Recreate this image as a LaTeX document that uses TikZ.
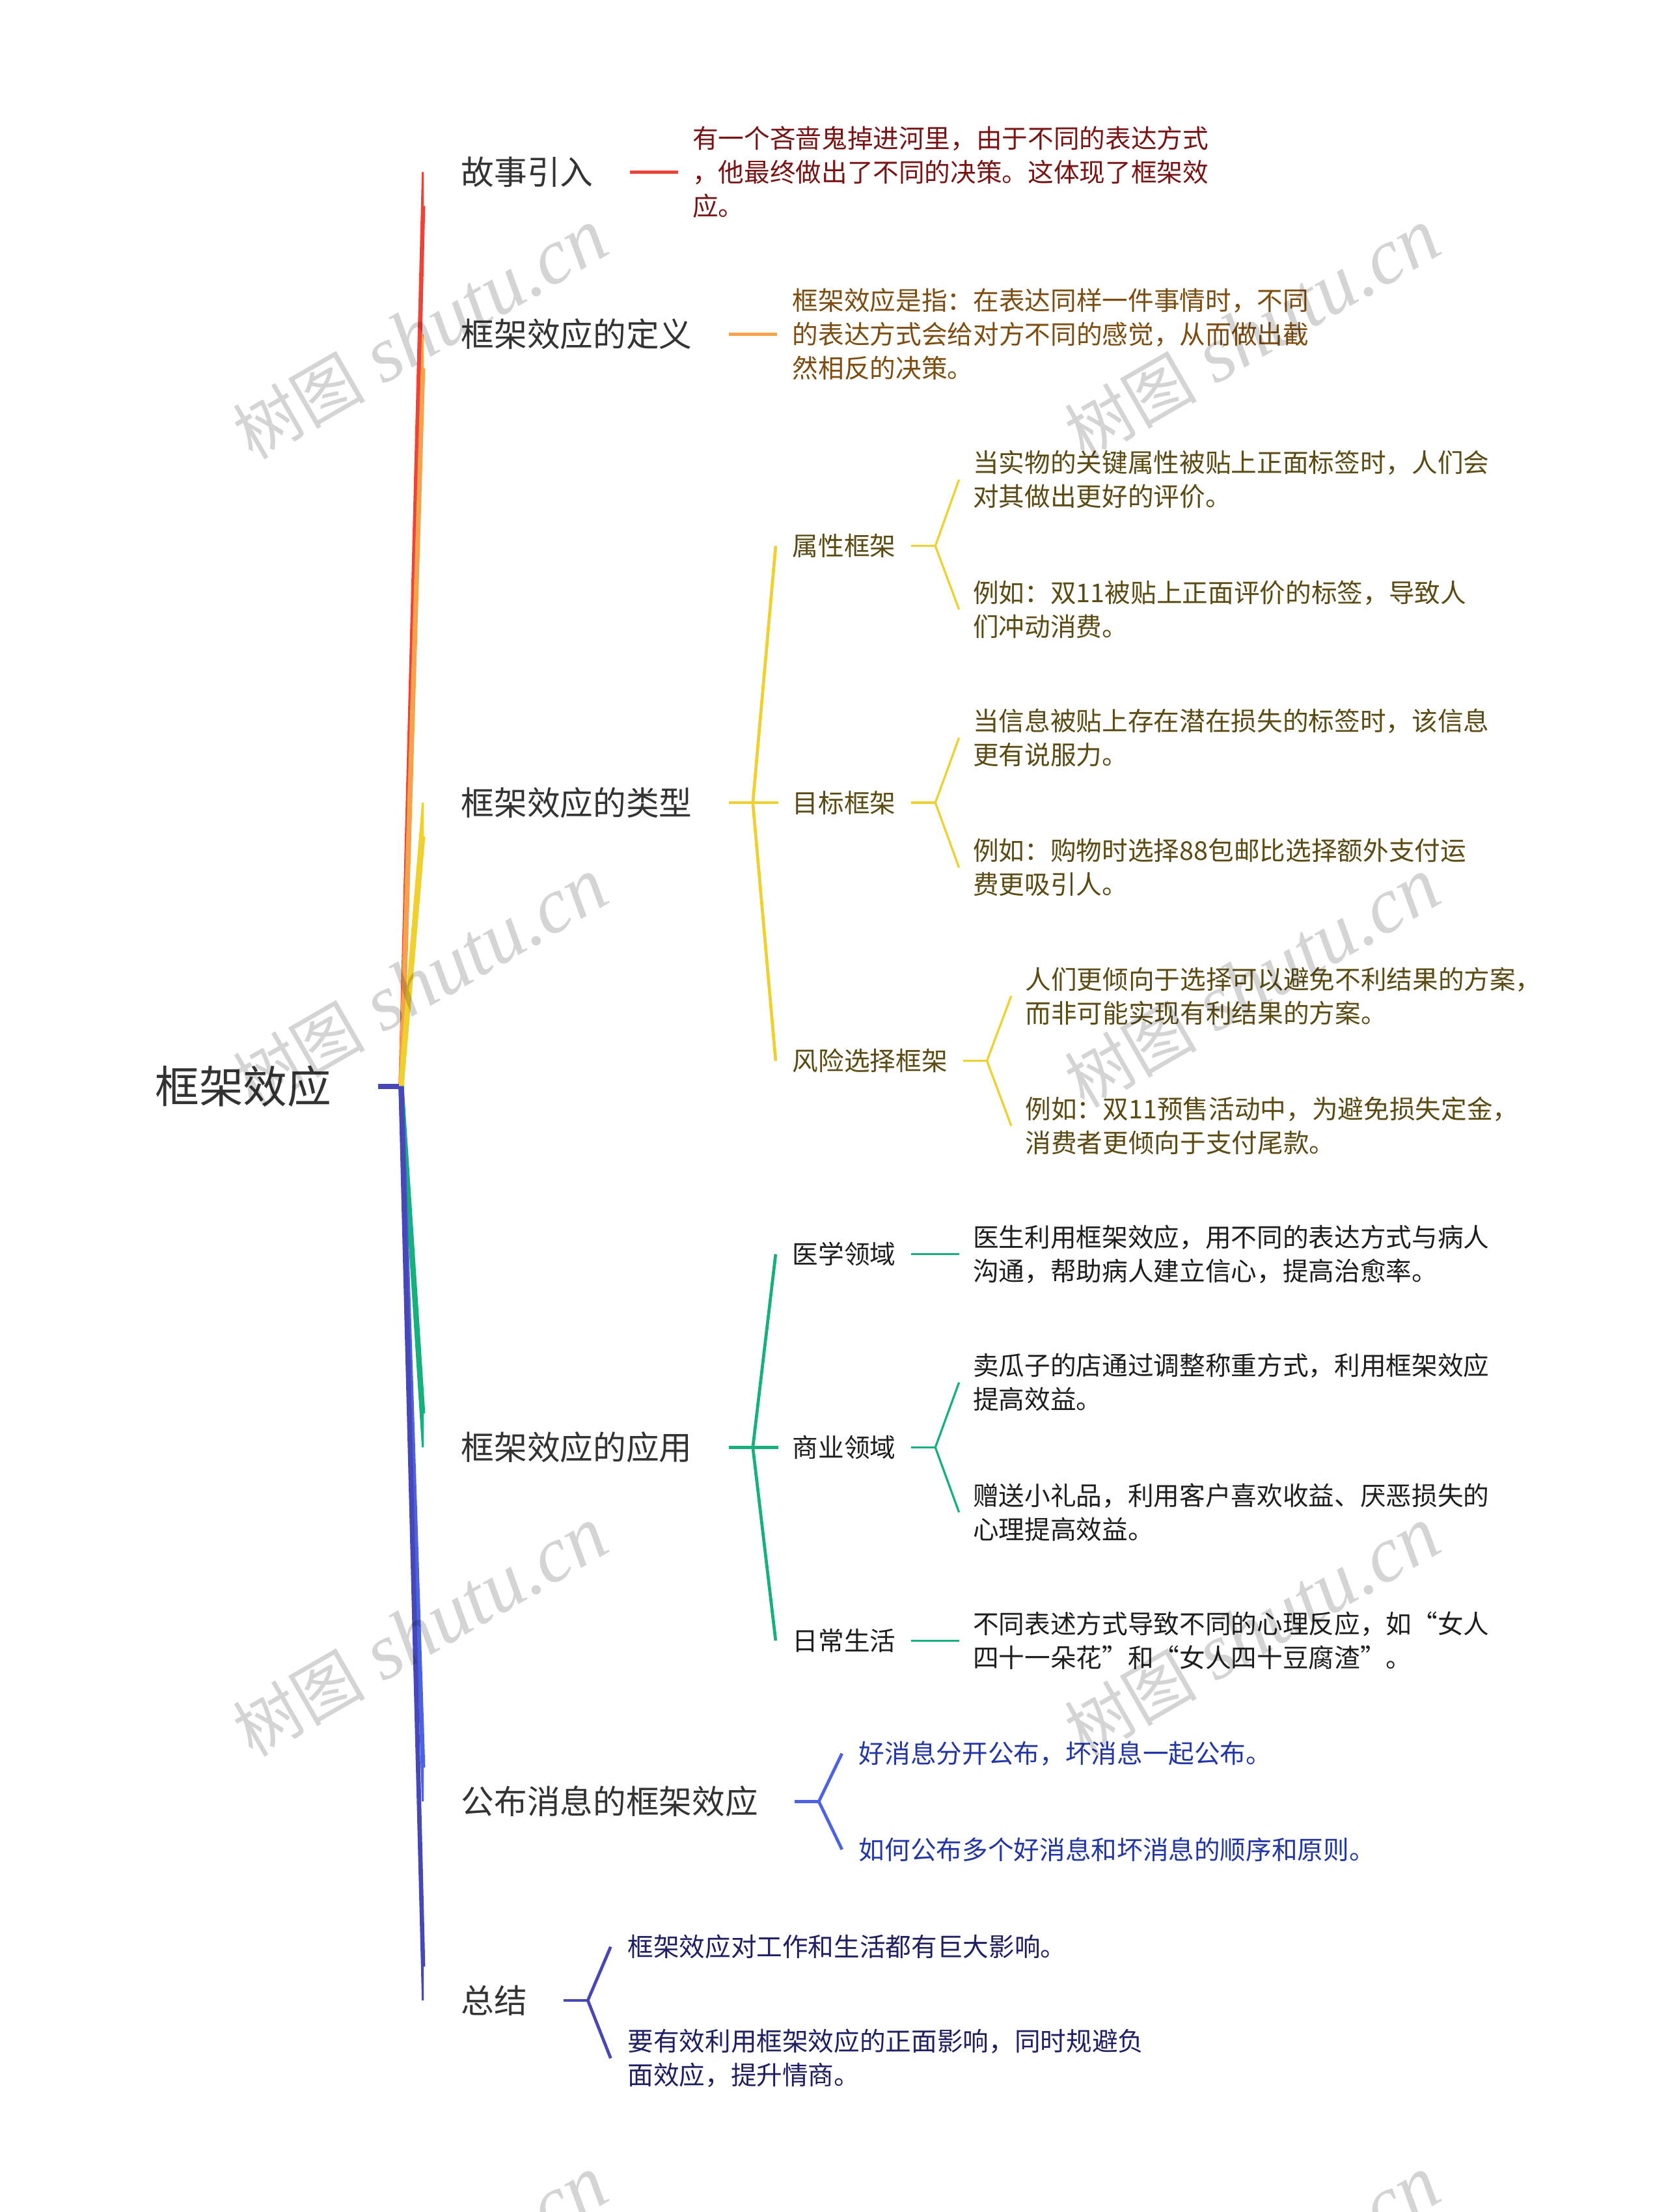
\documentclass[tikz,border=0pt]{standalone}
\usepackage{fontspec}
\newfontfamily\cjk{Noto Sans CJK SC}
\newfontfamily\wmfont{Liberation Serif}
\usetikzlibrary{calc}
\definecolor{cred}{HTML}{EE4339}
\definecolor{corange}{HTML}{F5A24B}
\definecolor{cyel}{HTML}{EFD02C}
\definecolor{cgreen}{HTML}{14B17C}
\definecolor{cblue}{HTML}{4C62E6}
\definecolor{cind}{HTML}{4747B8}
\definecolor{txone}{HTML}{333333}
\definecolor{txred}{HTML}{7A1414}
\definecolor{txbrown}{HTML}{7D4C0E}
\definecolor{txolive}{HTML}{5B4B12}
\definecolor{txgreen}{HTML}{1E1E1E}
\definecolor{txblue}{HTML}{2236A8}
\definecolor{txnavy}{HTML}{1F1F66}
\newcommand\mmtrunk[3]{%
  \fill[#1] ($(rb)+(-1.9,0)$) -- ($(#2.west)+(-27.9,0)$) -- ($(#2.west)+(-26.5,0)$)
    -- ($(#2.west)+(-26.5,#3*24)$) -- ($(#2.west)+(-25.5,#3*24)$) -- ($(rb)+(1.9,0)$) -- cycle;}
\begin{document}
\begin{tikzpicture}[x=1pt,y=-1pt,
  txt/.style={inner sep=0pt, outer sep=0pt, anchor=west, align=left},
  rootnode/.style={txt, font=\cjk\fontsize{31.25}{36}\selectfont, text=txone},
  lone/.style={txt, font=\cjk\fontsize{23.4}{28}\selectfont, text=txone},
  ltwo/.style={txt, font=\cjk\fontsize{18.3}{24}\selectfont},
  det/.style={txt, font=\cjk\fontsize{18.3}{24}\selectfont},
  cone/.style={line width=2.4pt},
  conm/.style={line width=2.2pt},
  ctwo/.style={line width=1.5pt},
  wm/.style={inner sep=0pt, rotate=30, text=black, text opacity=0.17}
]
\fill[white] (0,0) rectangle (1181.3,1568);
\useasboundingbox (0,0) rectangle (1181.3,1568);

% ---------- nodes ----------
\node[rootnode] (root) at (110,770) {框架效应};
\node[lone] (L1a) at (327,122) {故事引入};
\node[lone] (L1b) at (327,237) {框架效应的定义};
\node[lone] (L1c) at (327,569) {框架效应的类型};
\node[lone] (L1d) at (327,1026) {框架效应的应用};
\node[lone] (L1e) at (327,1277) {公布消息的框架效应};
\node[lone] (L1f) at (327,1418) {总结};

\node[det, text=txred] (D1) at (491,122) {有一个吝啬鬼掉进河里，由于不同的表达方式\\，他最终做出了不同的决策。这体现了框架效\\应。};
\node[det, text=txbrown] (D2) at (562,237) {框架效应是指：在表达同样一件事情时，不同\\的表达方式会给对方不同的感觉，从而做出截\\然相反的决策。};

\node[ltwo, text=txolive] (L2a) at (562,387) {属性框架};
\node[ltwo, text=txolive] (L2b) at (562,569) {目标框架};
\node[ltwo, text=txolive] (L2c) at (562,752) {风险选择框架};
\node[det, text=txolive] (D3a) at (690,340) {当实物的关键属性被贴上正面标签时，人们会\\对其做出更好的评价。};
\node[det, text=txolive] (D3b) at (690,432) {例如：双11被贴上正面评价的标签，导致人\\们冲动消费。};
\node[det, text=txolive] (D3c) at (690,523) {当信息被贴上存在潜在损失的标签时，该信息\\更有说服力。};
\node[det, text=txolive] (D3d) at (690,615) {例如：购物时选择88包邮比选择额外支付运\\费更吸引人。};
\node[det, text=txolive] (D3e) at (727,706) {人们更倾向于选择可以避免不利结果的方案，\\而非可能实现有利结果的方案。};
\node[det, text=txolive] (D3f) at (727,798) {例如：双11预售活动中，为避免损失定金，\\消费者更倾向于支付尾款。};

\node[ltwo, text=txgreen] (L2d) at (562,889) {医学领域};
\node[ltwo, text=txgreen] (L2e) at (562,1026) {商业领域};
\node[ltwo, text=txgreen] (L2f) at (562,1163) {日常生活};
\node[det, text=txgreen] (D4a) at (690,889) {医生利用框架效应，用不同的表达方式与病人\\沟通，帮助病人建立信心，提高治愈率。};
\node[det, text=txgreen] (D4b) at (690,980) {卖瓜子的店通过调整称重方式，利用框架效应\\提高效益。};
\node[det, text=txgreen] (D4c) at (690,1072) {赠送小礼品，利用客户喜欢收益、厌恶损失的\\心理提高效益。};
\node[det, text=txgreen] (D4d) at (690,1163) {不同表述方式导致不同的心理反应，如“女人\\四十一朵花”和“女人四十豆腐渣”。};

\node[det, text=txblue] (D5a) at (609,1243) {好消息分开公布，坏消息一起公布。};
\node[det, text=txblue] (D5b) at (609,1311) {如何公布多个好消息和坏消息的顺序和原则。};

\node[det, text=txnavy] (D6a) at (445,1380) {框架效应对工作和生活都有巨大影响。};
\node[det, text=txnavy] (D6b) at (445,1459) {要有效利用框架效应的正面影响，同时规避负\\面效应，提升情商。};

% ---------- trunk ----------
\coordinate (rb) at ([xshift=49.45pt]root.east);
\mmtrunk{cred}{L1a}{1}
\mmtrunk{corange}{L1b}{1}
\mmtrunk{cyel}{L1c}{1}
\mmtrunk{cgreen}{L1d}{-1}
\mmtrunk{cblue}{L1e}{-1}
\mmtrunk{cind}{L1f}{-1}
\draw[line width=3.7pt, cind] ([xshift=33pt]root.east) -- ([xshift=-1.6pt]rb);

% ---------- level 1 connectors ----------
\draw[cone, cred] ([xshift=26pt]L1a.east) -- ([xshift=-10pt]L1a.east -| D1.west);
\draw[cone, corange] ([xshift=26pt]L1b.east) -- ([xshift=-11pt]L1b.east -| D2.west);

\coordinate (J1c) at ([xshift=43pt]L1c.east);
\draw[conm, cyel] ([xshift=26pt]L1c.east) -- ([xshift=-10pt]L1c.east -| L2b.west);
\draw[conm, cyel] (J1c) -- ([xshift=-12pt]L2a.west);
\draw[conm, cyel] (J1c) -- ([xshift=-12pt]L2c.west);

\coordinate (J1d) at ([xshift=43pt]L1d.east);
\draw[conm, cgreen] ([xshift=26pt]L1d.east) -- ([xshift=-10pt]L1d.east -| L2e.west);
\draw[conm, cgreen] (J1d) -- ([xshift=-12pt]L2d.west);
\draw[conm, cgreen] (J1d) -- ([xshift=-12pt]L2f.west);

\coordinate (J1e) at ([xshift=43pt]L1e.east);
\draw[conm, cblue] ([xshift=26pt]L1e.east) -- (J1e);
\draw[conm, cblue] (J1e) -- ([xshift=-12pt]D5a.west);
\draw[conm, cblue] (J1e) -- ([xshift=-12pt]D5b.west);

\coordinate (J1f) at ([xshift=43pt]L1f.east);
\draw[conm, cind] ([xshift=26pt]L1f.east) -- (J1f);
\draw[conm, cind] (J1f) -- ([xshift=-12pt]D6a.west);
\draw[conm, cind] (J1f) -- ([xshift=-12pt]D6b.west);

% ---------- level 2 connectors ----------
\coordinate (J2a) at ([xshift=28pt]L2a.east);
\draw[ctwo, cyel] ([xshift=11pt]L2a.east) -- (J2a);
\draw[ctwo, cyel] (J2a) -- ([xshift=-10pt]D3a.west);
\draw[ctwo, cyel] (J2a) -- ([xshift=-10pt]D3b.west);

\coordinate (J2b) at ([xshift=28pt]L2b.east);
\draw[ctwo, cyel] ([xshift=11pt]L2b.east) -- (J2b);
\draw[ctwo, cyel] (J2b) -- ([xshift=-10pt]D3c.west);
\draw[ctwo, cyel] (J2b) -- ([xshift=-10pt]D3d.west);

\coordinate (J2c) at ([xshift=28pt]L2c.east);
\draw[ctwo, cyel] ([xshift=11pt]L2c.east) -- (J2c);
\draw[ctwo, cyel] (J2c) -- ([xshift=-10pt]D3e.west);
\draw[ctwo, cyel] (J2c) -- ([xshift=-10pt]D3f.west);

\draw[ctwo, cgreen] ([xshift=11pt]L2d.east) -- ([xshift=-10pt]L2d.east -| D4a.west);
\coordinate (J2e) at ([xshift=28pt]L2e.east);
\draw[ctwo, cgreen] ([xshift=11pt]L2e.east) -- (J2e);
\draw[ctwo, cgreen] (J2e) -- ([xshift=-10pt]D4b.west);
\draw[ctwo, cgreen] (J2e) -- ([xshift=-10pt]D4c.west);
\draw[ctwo, cgreen] ([xshift=11pt]L2f.east) -- ([xshift=-10pt]L2f.east -| D4d.west);

% ---------- watermarks ----------
\foreach \wx/\wy/\wn in {298/237/1, 888/237/2, 298/697/3, 888/697/4, 298/1157/5, 888/1157/6, 298/1617/7, 888/1617/8}{
  \node[wm] (wm\wn) at (\wx,\wy) {{\cjk\fontsize{47}{47}\selectfont 树图}\hspace{13pt}{\wmfont\itshape\fontsize{56}{56}\selectfont shutu.cn}};
}
\end{tikzpicture}
\end{document}
